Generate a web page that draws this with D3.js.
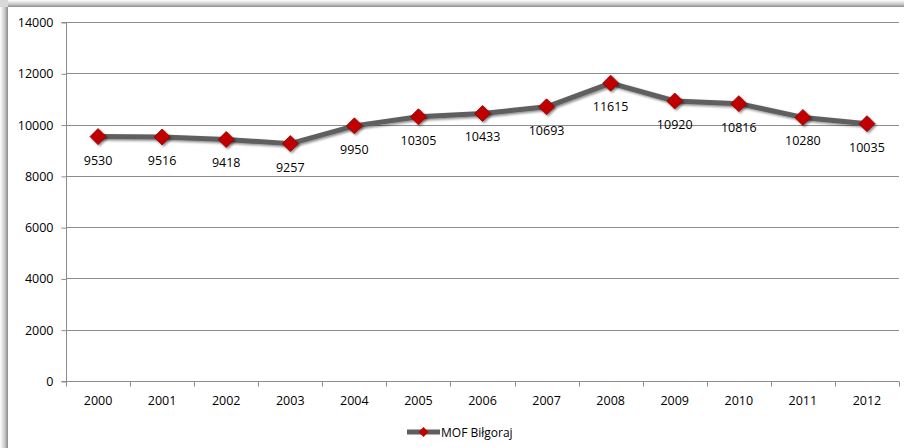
<!DOCTYPE html>
<html>
<head>
<meta charset="utf-8">
<script src="https://cdn.jsdelivr.net/npm/d3@7/dist/d3.min.js"></script>
<style>
html,body{margin:0;padding:0;background:#fff;}
svg{display:block;font-family:"Open Sans","Liberation Sans",sans-serif;}
</style>
</head>
<body>
<svg id="chart" width="904" height="448"></svg>
<script>
const years = ["2000","2001","2002","2003","2004","2005","2006","2007","2008","2009","2010","2011","2012"];
const values = [9530,9516,9418,9257,9950,10305,10433,10693,11615,10920,10816,10280,10035];
const yTicks = [0,2000,4000,6000,8000,10000,12000,14000];
const seriesName = "MOF Biłgoraj";

const svg = d3.select("#chart");
const defs = svg.append("defs");
const gl = defs.append("linearGradient").attr("id","gl").attr("x1","0").attr("x2","1").attr("y1","0").attr("y2","0");
gl.append("stop").attr("offset","0").attr("stop-color","#ffffff");
gl.append("stop").attr("offset","0.6").attr("stop-color","#c8c8c8");
gl.append("stop").attr("offset","1").attr("stop-color","#8a8a8a");
const gt = defs.append("linearGradient").attr("id","gt").attr("x1","0").attr("x2","0").attr("y1","0").attr("y2","1");
gt.append("stop").attr("offset","0").attr("stop-color","#ffffff");
gt.append("stop").attr("offset","0.6").attr("stop-color","#c8c8c8");
gt.append("stop").attr("offset","1").attr("stop-color","#8a8a8a");
const sh = defs.append("filter").attr("id","sh").attr("x","-50%").attr("y","-50%").attr("width","200%").attr("height","200%");
sh.append("feDropShadow").attr("dx",1.5).attr("dy",1.5).attr("stdDeviation",1.2).attr("flood-color","#000").attr("flood-opacity",0.45);

svg.append("rect").attr("x",0).attr("y",7).attr("width",8).attr("height",441).attr("fill","url(#gl)");
svg.append("rect").attr("x",8).attr("y",0).attr("width",896).attr("height",7).attr("fill","url(#gt)");
svg.append("rect").attr("x",0).attr("y",0).attr("width",8).attr("height",7).attr("fill","#d8d8d8");

const m = {left:66, right:899, top:22, bottom:381};
const x = d3.scaleBand().domain(years).range([m.left, m.right]);
const y = d3.scaleLinear().domain([0,14000]).range([m.bottom, m.top]);

svg.append("g").selectAll("line").data(yTicks.filter(d=>d>0)).join("line")
  .attr("x1",m.left).attr("x2",m.right)
  .attr("y1",d=>Math.round(y(d))+0.5).attr("y2",d=>Math.round(y(d))+0.5)
  .attr("stroke","#8c8c8c").attr("stroke-width",1);

const yAxis = d3.axisLeft(y).tickValues(yTicks).tickSize(5).tickPadding(8).tickFormat(d3.format("d"));
const ga = svg.append("g").attr("transform",`translate(${m.left+0.5},0.5)`).call(yAxis);
ga.select(".domain").attr("stroke","#8c8c8c").attr("d",`M-5,${m.bottom}H0V${m.top}H-5`);
ga.selectAll(".tick line").attr("stroke","#8c8c8c");
ga.selectAll("text").attr("font-size",12.5).attr("fill","#000").attr("font-family","'Open Sans','Liberation Sans',sans-serif");

const gx = svg.append("g").attr("transform",`translate(0,${m.bottom+0.5})`);
gx.append("line").attr("x1",m.left).attr("x2",m.right).attr("stroke","#8c8c8c");
const bounds = years.map(d=>x(d)).concat([m.right]);
gx.selectAll("line.tk").data(bounds).join("line").attr("class","tk")
  .attr("x1",d=>Math.round(d)+0.5).attr("x2",d=>Math.round(d)+0.5).attr("y1",0).attr("y2",5).attr("stroke","#8c8c8c");
gx.selectAll("text").data(years).join("text")
  .attr("x",d=>x(d)+x.bandwidth()/2).attr("y",23)
  .attr("text-anchor","middle").attr("font-size",12.5).attr("fill","#000").text(d=>d);

const pts = years.map((d,i)=>({yr:d,v:values[i]}));
const line = d3.line().x(d=>x(d.yr)+x.bandwidth()/2).y(d=>y(d.v));
svg.append("path").datum(pts).attr("d",line).attr("fill","none")
  .attr("stroke","#5f5f5f").attr("stroke-width",5).attr("stroke-linejoin","round").attr("filter","url(#sh)");

const diamond = "M0,-8L8,0L0,8L-8,0Z";
svg.append("g").selectAll("path").data(pts).join("path")
  .attr("transform",d=>`translate(${x(d.yr)+x.bandwidth()/2},${y(d.v)})`)
  .attr("d",diamond).attr("fill","#c00000").attr("stroke","#8a0000").attr("stroke-width",0.8).attr("filter","url(#sh)");

svg.append("g").selectAll("text").data(pts).join("text")
  .attr("x",d=>x(d.yr)+x.bandwidth()/2).attr("y",d=>y(d.v)+28)
  .attr("text-anchor","middle").attr("font-size",12.5).attr("fill","#000").text(d=>d.v);

const lg = svg.append("g").attr("transform","translate(407,432)");
lg.append("line").attr("x1",0).attr("x2",33).attr("y1",0).attr("y2",0).attr("stroke","#5f5f5f").attr("stroke-width",5);
lg.append("path").attr("transform","translate(16.5,0)").attr("d","M0,-5L5,0L0,5L-5,0Z").attr("fill","#c00000");
lg.append("text").attr("x",34).attr("y",4.5).attr("font-size",12).attr("fill","#000").text(seriesName);
</script>
</body>
</html>
